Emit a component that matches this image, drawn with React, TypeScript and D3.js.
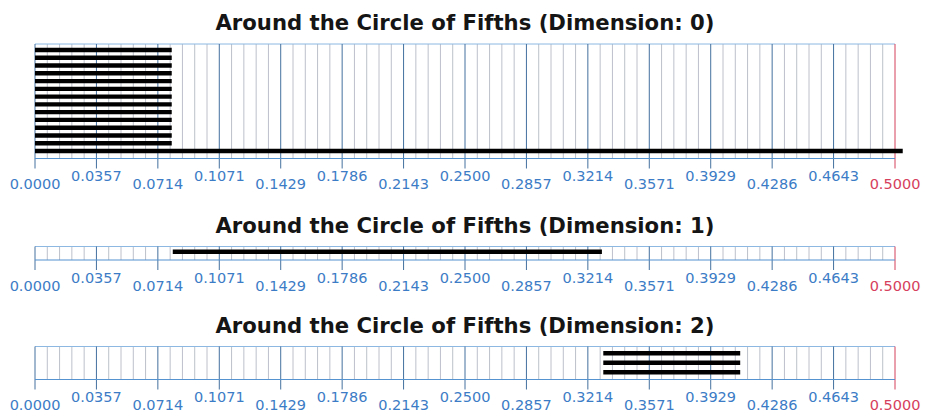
import React from 'react';
import * as d3 from 'd3';

const titles = [
  'Around the Circle of Fifths (Dimension: 0)',
  'Around the Circle of Fifths (Dimension: 1)',
  'Around the Circle of Fifths (Dimension: 2)',
];

const dim0Births = [0, 0, 0, 0, 0, 0, 0, 0, 0, 0, 0, 0, 0, 0];
const dim0Deaths = [0.0795, 0.0795, 0.0795, 0.0795, 0.0795, 0.0795, 0.0795, 0.0795, 0.0795, 0.0795, 0.0795, 0.0795, 0.0795, 0.5045];
const dim1Births = [0.0801];
const dim1Deaths = [0.3296];
const dim2Births = [0.3304, 0.3304, 0.3304];
const dim2Deaths = [0.4100, 0.4100, 0.4100];

const tickValues = [0, 1 / 28, 2 / 28, 3 / 28, 4 / 28, 5 / 28, 6 / 28, 7 / 28, 8 / 28, 9 / 28, 10 / 28, 11 / 28, 12 / 28, 13 / 28, 14 / 28];
const tickLabels = ['0.0000', '0.0357', '0.0714', '0.1071', '0.1429', '0.1786', '0.2143', '0.2500', '0.2857', '0.3214', '0.3571', '0.3929', '0.4286', '0.4643', '0.5000'];

const births = [dim0Births, dim1Births, dim2Births];
const deaths = [dim0Deaths, dim1Deaths, dim2Deaths];

// layout
const panels = [
  { top: 44, axis: 158.5, y0: 50, y1: 151 },
  { top: 246.5, axis: 260, y0: 251.7, y1: 251.7 },
  { top: 346.5, axis: 379.5, y0: 353.3, y1: 372.3 },
];

const x = d3.scaleLinear().domain([0, 0.5]).range([35, 895]);
const minorGrid = d3.range(0, 71).map((i) => i / 140);

const MAJOR = '#44709f';
const MINOR = '#bcc0ca';
const FRAME = '#8cb8e2';
const AXIS = '#5592d0';
const LABEL = '#3c7cc6';
const RED = '#d6405c';

function Panel({ idx }: { idx: number }) {
  const p = panels[idx];
  const b = births[idx];
  const d = deaths[idx];
  const y = d3
    .scalePoint<number>()
    .domain(d3.range(b.length))
    .range([p.y0, p.y1])
    .padding(0);
  const tickLen = 10;
  return (
    <g>
      <text
        x={(x.range()[0] + x.range()[1]) / 2}
        y={p.top - 14}
        textAnchor="middle"
        fontFamily="DejaVu Sans, sans-serif"
        fontWeight="bold"
        fontSize={21.2}
        fill="#151515"
      >
        {titles[idx]}
      </text>
      {minorGrid.map((v, i) =>
        i % 5 === 0 ? null : (
          <line key={'m' + i} x1={x(v)} x2={x(v)} y1={p.top} y2={p.axis} stroke={MINOR} strokeWidth={1} />
        )
      )}
      <line x1={x(0)} x2={x(0.5)} y1={p.top} y2={p.top} stroke={FRAME} strokeWidth={1} />
      {tickValues.map((v, i) => (
        <line
          key={'M' + i}
          x1={x(v)}
          x2={x(v)}
          y1={p.top}
          y2={p.axis + tickLen}
          stroke={i === tickValues.length - 1 ? RED : MAJOR}
          strokeWidth={1}
        />
      ))}
      <line x1={x(0)} x2={x(0.5)} y1={p.axis} y2={p.axis} stroke={AXIS} strokeWidth={1} />
      {b.map((bv, i) => (
        <line
          key={'b' + i}
          x1={x(bv)}
          x2={x(d[i])}
          y1={y(i)}
          y2={y(i)}
          stroke="#000"
          strokeWidth={4.4}
        />
      ))}
      {tickValues.map((v, i) => (
        <text
          key={'t' + i}
          x={x(v)}
          y={p.axis + (i % 2 === 0 ? 30.5 : 22.5)}
          textAnchor="middle"
          fontFamily="DejaVu Sans, sans-serif"
          fontSize={14.5}
          fill={i === tickValues.length - 1 ? RED : LABEL}
        >
          {tickLabels[i]}
        </text>
      ))}
    </g>
  );
}

export default function App() {
  return (
    <svg
      width={925}
      height={412}
      style={{ position: 'absolute', left: 0, top: 0, background: '#fff' }}
    >
      <rect width={925} height={412} fill="#fff" />
      {[0, 1, 2].map((i) => (
        <Panel key={i} idx={i} />
      ))}
    </svg>
  );
}
